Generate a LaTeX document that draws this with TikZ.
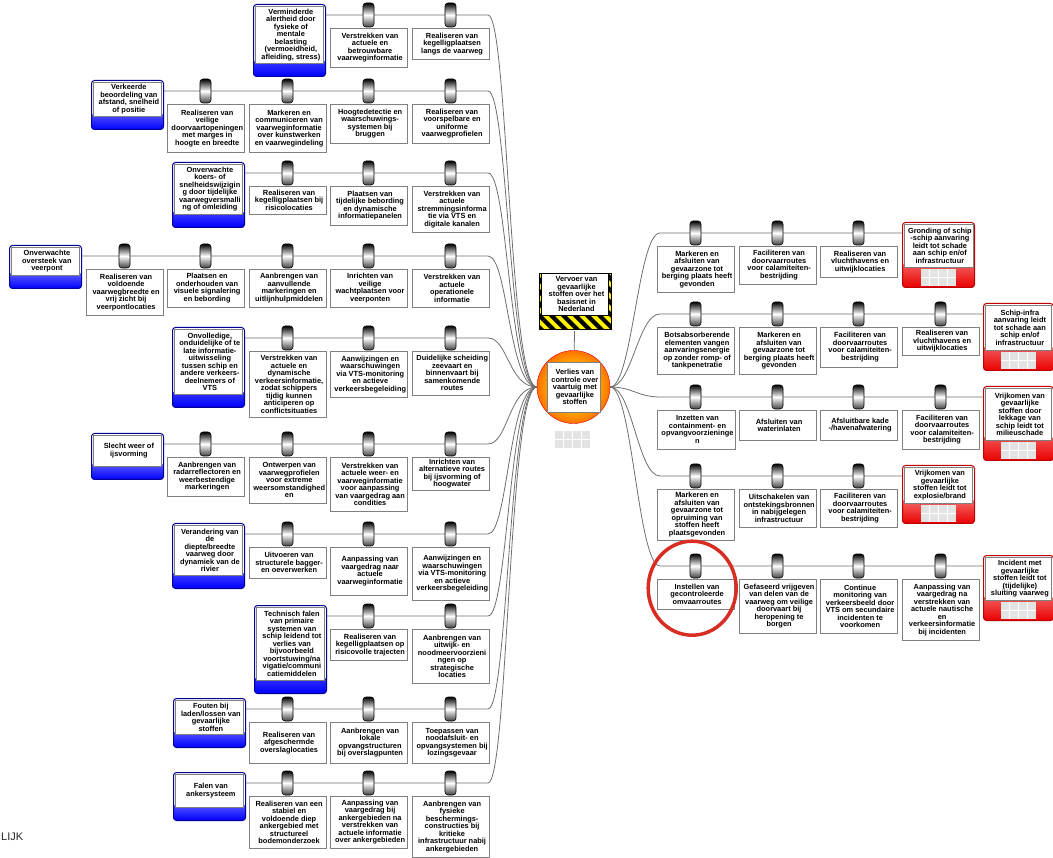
\documentclass[tikz,border=0pt]{standalone}
\usepackage{fontspec}
\setmainfont{Liberation Sans}
\usetikzlibrary{calc,backgrounds,patterns.meta}
\definecolor{thr_blue}		{RGB}{0,0,255}
\definecolor{thr_edge}		{RGB}{0,0,150}
\definecolor{con_red}		{RGB}{235,0,0}
\definecolor{con_edge}		{RGB}{190,0,0}
\definecolor{line_gray}		{RGB}{110,110,110}
\definecolor{box_gray}		{RGB}{128,128,128}
\definecolor{hl_red}		{RGB}{215,45,35}
\definecolor{circ_core}		{RGB}{255,200,0}
\definecolor{circ_mid}		{RGB}{255,120,0}
\pgfdeclareradialshading{orbshade}{\pgfpoint{0bp}{0bp}}{color(0bp)=(circ_core); color(12bp)=(circ_core);
	color(24bp)=(circ_mid); color(37bp)=(red); color(50bp)=(red)}
\newcommand{\boxfont}	{ \bfseries\fontsize{7.4}{7.5}\selectfont }
% barrier: name, left x, line y, box height, text
\newcommand{\barrier}[5]{%
	\node[barrel] (#1c) at ({#2+38.5},#3) {};
	\node[blockBar, minimum height=#4] (#1) at (#2,{#3+13}) {#5};}
% threat: name, left x, top y, height, text
\newcommand{\threat}[5]{%
	\node[blockT, minimum height=#4] (#1) at (#2,#3) {};
	\node[blockW, minimum width=68, minimum height={#4-15}] (#1t) at ([yshift=-2pt]#1.north) {#5};}
% consequence: name, left x, top y, width, height, text
\newcommand{\conseq}[6]{%
	\node[blockC, minimum width=#4, minimum height=#5] (#1) at (#2,#3) {};
	\node[blockW, minimum width={#4-4}, minimum height={#5-22}] (#1t) at ([yshift=-2pt]#1.north) {#6};
	\node[tallyGrid] (#1g) at ([yshift=10.5pt]#1.south) {};}

\begin{document}
\begin{tikzpicture}[x=1pt, y=-1pt,
		blockT/.style   = {anchor=north west,
			minimum width  = 72,
			rounded corners = 3pt,
			draw           = thr_edge,
			line width     = 1pt,
			fill           = white,
			path picture   = {\shade[top color=white, bottom color=thr_blue]
				(path picture bounding box.south west) rectangle ([yshift=16pt]path picture bounding box.south east);}},
		blockC/.style   = {anchor=north west,
			rounded corners = 3pt,
			draw           = con_edge,
			line width     = 1pt,
			fill           = white,
			path picture   = {\shade[top color=white, bottom color=con_red]
				(path picture bounding box.south west) rectangle ([yshift=24pt]path picture bounding box.south east);}},
		blockW/.style   = {anchor=north,
			fill           = white,
			draw           = box_gray,
			align          = center,
			inner sep      = 1.5pt,
			font           = \boxfont},
		blockBar/.style = {anchor=north west,
			fill           = white,
			draw           = box_gray,
			minimum width  = 77,
			align          = center,
			inner sep      = 1.5pt,
			font           = \boxfont},
		barrel/.style   = {minimum width=11, minimum height=24, inner sep=0,
			rounded corners = 3pt, draw=black, line width=0.6pt,
			top color=black, bottom color=black!75, middle color=white},
		tallyGrid/.style = {minimum width=35, minimum height=17, inner sep=0, fill=black!11,
			path picture   = {\foreach \f in {0.25,0.5,0.75}
				\draw[white, line width=1pt] ($(path picture bounding box.north west)!\f!(path picture bounding box.north east)$)
				-- ($(path picture bounding box.south west)!\f!(path picture bounding box.south east)$);
				\draw[white, line width=1pt] (path picture bounding box.west) -- (path picture bounding box.east);}},
		hazard/.style   = {anchor=north west, minimum width=72, minimum height=56, draw=black,
			preaction={fill=yellow}, pattern={Lines[angle=-45,distance=8.5pt,line width=4.2pt]}, pattern color=black},
		orb/.style      = {circle, minimum size=73, inner sep=0, draw=red!90!black, shading=orbshade},
		conn/.style     = {draw=line_gray, line width=0.8pt},
		hilite/.style   = {draw=hl_red, line width=3.5pt}]
	
	\useasboundingbox (0,0) rectangle (1053,858);
	
	% centre
	\node[hazard] (haz) at (537,271) {};
	\node[blockW, draw=black, minimum width=67, minimum height=42] (hazt) at ([yshift=-2pt]haz.north)
	{Vervoer van\\gevaarlijke\\stoffen over het\\basisnet in\\Nederland};
	\node[orb] (circ) at (573.5,387) {};
	\node[blockW, anchor=center, minimum width=50, minimum height=50] (event) at (circ)
	{Verlies van\\controle over\\vaartuig met\\gevaarlijke\\stoffen};
	\node[tallyGrid] (circg) at (572.5,439.5) {};
	
	% threats and barriers (left)
	\threat{thr1}{253}{4}{72}{Verminderde\\alertheid door\\fysieke of\\mentale\\belasting\\(vermoeidheid,\\afleiding, stress)}
	\barrier{L1-3}{330}{15}{39}{Verstrekken van\\actuele en\\betrouwbare\\vaarweginformatie}
	\barrier{L1-4}{412}{15}{31}{Realiseren van\\kegelligplaatsen\\langs de vaarweg}
	
	\threat{thr2}{91}{80}{49}{Verkeerde\\beoordeling van\\afstand, snelheid\\of positie}
	\barrier{L2-1}{167}{91}{48}{Realiseren van\\veilige\\doorvaartopeningen\\met marges in\\hoogte en breedte}
	\barrier{L2-2}{249}{91}{48}{Markeren en\\communiceren van\\vaarweginformatie\\over kunstwerken\\en vaarwegindeling}
	\barrier{L2-3}{330}{91}{39}{Hoogtedetectie en\\waarschuwings-\\systemen bij\\bruggen}
	\barrier{L2-4}{412}{91}{39}{Realiseren van\\voorspelbare en\\uniforme\\vaarwegprofielen}
	
	\threat{thr3}{172}{162}{65}{Onverwachte\\koers- of\\snelheidswijzigin\\g door tijdelijke\\vaarwegversmalli\\ng of omleiding}
	\barrier{L3-2}{249}{173}{28}{Realiseren van\\kegelligplaatsen bij\\risicolocaties}
	\barrier{L3-3}{330}{173}{39}{Plaatsen van\\tijdelijke bebording\\en dynamische\\informatiepanelen}
	\barrier{L3-4}{412}{173}{46}{Verstrekken van\\actuele\\stremmingsinforma\\tie via VTS en\\digitale kanalen}
	
	\threat{thr4}{9}{245}{43}{Onverwachte\\oversteek van\\veerpont}
	\barrier{L4-0}{86}{256}{46}{Realiseren van\\voldoende\\vaarwegbreedte en\\vrij zicht bij\\veerpontlocaties}
	\barrier{L4-1}{167}{256}{38}{Plaatsen en\\onderhouden van\\visuele signalering\\en bebording}
	\barrier{L4-2}{249}{256}{38}{Aanbrengen van\\aanvullende\\markeringen en\\uitlijnhulpmiddelen}
	\barrier{L4-3}{330}{256}{38}{Inrichten van\\veilige\\wachtplaatsen voor\\veerponten}
	\barrier{L4-4}{412}{256}{38}{Verstrekken van\\actuele\\operationele\\informatie}
	
	\threat{thr5}{172}{327}{80}{Onvolledige,\\onduidelijke of te\\late informatie-\\uitwisseling\\tussen schip en\\andere verkeers-\\deelnemers of\\VTS}
	\barrier{L5-2}{249}{338}{66}{Verstrekken van\\actuele en\\dynamische\\verkeersinformatie,\\zodat schippers\\tijdig kunnen\\anticiperen op\\conflictsituaties}
	\barrier{L5-3}{330}{338}{46}{Aanwijzingen en\\waarschuwingen\\via VTS-monitoring\\en actieve\\verkeersbegeleiding}
	\barrier{L5-4}{412}{338}{44}{Duidelijke scheiding\\zeevaart en\\binnenvaart bij\\samenkomende\\routes}
	
	\threat{thr6}{91}{433}{46}{Slecht weer of\\ijsvorming}
	\barrier{L6-1}{167}{444}{39}{Aanbrengen van\\radarreflectoren en\\weerbestendige\\markeringen}
	\barrier{L6-2}{249}{444}{46}{Ontwerpen van\\vaarwegprofielen\\voor extreme\\weersomstandighed\\en}
	\barrier{L6-3}{330}{444}{54}{Verstrekken van\\actuele weer- en\\vaarweginformatie\\voor aanpassing\\van vaargedrag aan\\condities}
	\barrier{L6-4}{412}{444}{33}{Inrichten van\\alternatieve routes\\bij ijsvorming of\\hoogwater}
	
	\threat{thr7}{172}{523}{65}{Verandering van\\de\\diepte/breedte\\vaarweg door\\dynamiek van de\\rivier}
	\barrier{L7-2}{249}{534}{31}{Uitvoeren van\\structurele bagger-\\en oeverwerken}
	\barrier{L7-3}{330}{534}{48}{Aanpassing van\\vaargedrag naar\\actuele\\vaarweginformatie}
	\barrier{L7-4}{412}{534}{53}{Aanwijzingen en\\waarschuwingen\\via VTS-monitoring\\en actieve\\verkeersbegeleiding}
	
	\threat{thr8}{254}{605}{88}{Technisch falen\\van primaire\\systemen van\\schip leidend tot\\verlies van\\bijvoorbeeld\\voortstuwing/na\\vigatie/communi\\catiemiddelen}
	\barrier{L8-3}{330}{616}{31}{Realiseren van\\kegelligplaatsen op\\risicovolle trajecten}
	\barrier{L8-4}{412}{616}{54}{Aanbrengen van\\uitwijk- en\\noodmeervoorzieni\\ngen op\\strategische\\locaties}
	
	\threat{thr9}{173}{698}{49}{Fouten bij\\laden/lossen van\\gevaarlijke\\stoffen}
	\barrier{L9-2}{249}{709}{41}{Realiseren van\\afgeschermde\\overslaglocaties}
	\barrier{L9-3}{330}{709}{41}{Aanbrengen van\\lokale\\opvangstructuren\\bij overslagpunten}
	\barrier{L9-4}{412}{709}{41}{Toepassen van\\noodafsluit- en\\opvangsystemen bij\\lozingsgevaar}
	
	\threat{thr10}{173}{772}{48}{Falen van\\ankersysteem}
	\barrier{L10-2}{249}{783}{52}{Realiseren van een\\stabiel en\\voldoende diep\\ankergebied met\\structureel\\bodemonderzoek}
	\barrier{L10-3}{330}{783}{52}{Aanpassing van\\vaargedrag bij\\ankergebieden na\\verstrekken van\\actuele informatie\\over ankergebieden}
	\barrier{L10-4}{412}{783}{61}{Aanbrengen van\\fysieke\\beschermings-\\constructies bij\\kritieke\\infrastructuur nabij\\ankergebieden}
	
	% barriers and consequences (right)
	\barrier{R1-1}{657}{233}{46}{Markeren en\\afsluiten van\\gevaarzone tot\\berging plaats heeft\\gevonden}
	\barrier{R1-2}{739}{233}{38}{Faciliteren van\\doorvaarroutes\\voor calamiteiten-\\bestrijding}
	\barrier{R1-3}{820}{233}{31}{Realiseren van\\vluchthavens en\\uitwijklocaties}
	\conseq{con1}{902}{222}{72}{65}{Gronding of schip\\-schip aanvaring\\leidt tot schade\\aan schip en/of\\infrastructuur}
	
	\barrier{R2-1}{657}{314}{47}{Botsabsorberende\\elementen vangen\\aanvaringsenergie\\op zonder romp- of\\tankpenetratie}
	\barrier{R2-2}{739}{314}{47}{Markeren en\\afsluiten van\\gevaarzone tot\\berging plaats heeft\\gevonden}
	\barrier{R2-3}{820}{314}{40}{Faciliteren van\\doorvaarroutes\\voor calamiteiten-\\bestrijding}
	\barrier{R2-4}{902}{314}{28}{Realiseren van\\vluchthavens en\\uitwijklocaties}
	\conseq{con2}{983}{303}{70}{67}{Schip-infra\\aanvaring leidt\\tot schade aan\\schip en/of\\infrastructuur}
	
	\barrier{R3-1}{657}{397}{39}{Inzetten van\\containment- en\\opvangvoorzieninge\\n}
	\barrier{R3-2}{739}{397}{30}{Afsluiten van\\waterinlaten}
	\barrier{R3-3}{820}{397}{30}{Afsluitbare kade\\-/havenafwatering}
	\barrier{R3-4}{902}{397}{39}{Faciliteren van\\doorvaarroutes\\voor calamiteiten-\\bestrijding}
	\conseq{con3}{983}{386}{70}{74}{Vrijkomen van\\gevaarlijke\\stoffen door\\lekkage van\\schip leidt tot\\milieuschade}
	
	\barrier{R4-1}{657}{476}{51}{Markeren en\\afsluiten van\\gevaarzone tot\\opruiming van\\stoffen heeft\\plaatsgevonden}
	\barrier{R4-2}{739}{476}{38}{Uitschakelen van\\ontstekingsbronnen\\in nabijgelegen\\infrastructuur}
	\barrier{R4-3}{820}{476}{38}{Faciliteren van\\doorvaarroutes\\voor calamiteiten-\\bestrijding}
	\conseq{con4}{902}{465}{72}{58}{Vrijkomen van\\gevaarlijke\\stoffen leidt tot\\explosie/brand}
	
	\barrier{R5-1}{657}{566}{30}{Instellen van\\gecontroleerde\\omvaarroutes}
	\barrier{R5-2}{739}{566}{54}{Gefaseerd vrijgeven\\van delen van de\\vaarweg om veilige\\doorvaart bij\\heropening te\\borgen}
	\barrier{R5-3}{820}{566}{54}{Continue\\monitoring van\\verkeersbeeld door\\VTS om secundaire\\incidenten te\\voorkomen}
	\barrier{R5-4}{902}{566}{61}{Aanpassing van\\vaargedrag na\\verstrekken van\\actuele nautische\\en\\verkeersinformatie\\bij incidenten}
	\conseq{con5}{983}{555}{70}{65}{Incident met\\gevaarlijke\\stoffen leidt tot\\(tijdelijke)\\sluiting vaarweg}
	
	\node[anchor=west, inner sep=0, font=\fontsize{11}{13}\selectfont, text=black!85] (lijk) at (1,837) {LIJK};
	
	% bends of the lines
	\coordinate (kL1)  at (488,15);
	\coordinate (kL2)  at (488,91);
	\coordinate (kL3)  at (488,173);
	\coordinate (kL4)  at (488,256);
	\coordinate (kL5)  at (488,338);
	\coordinate (kL6)  at (488,444);
	\coordinate (kL7)  at (488,534);
	\coordinate (kL8)  at (488,616);
	\coordinate (kL9)  at (488,709);
	\coordinate (kL10) at (488,783);
	\coordinate (kR1)  at (660,233);
	\coordinate (kR2)  at (660,314);
	\coordinate (kR3)  at (660,397);
	\coordinate (kR4)  at (660,476);
	\coordinate (kR5)  at (660,566);
	
	\begin{scope}[on background layer]
		\foreach \i in {1,...,10}
		\draw[conn] (thr\i.east |- kL\i) -- (kL\i)
		to[out=0, in=180, out distance=20pt, in distance=28pt] (circ.west);
		\foreach \i in {1,...,5}
		\draw[conn] (circ.east) to[out=0, in=180, out distance=22pt, in distance=22pt] (kR\i)
		-- (kR\i -| con\i.west);
		\draw[conn] (haz) -- (circ);
	\end{scope}
	
	\draw[hilite] ([xshift=-3.5pt, yshift=6pt]R5-1.center) ellipse [x radius=44pt, y radius=47pt];
	
\end{tikzpicture}
\end{document}
